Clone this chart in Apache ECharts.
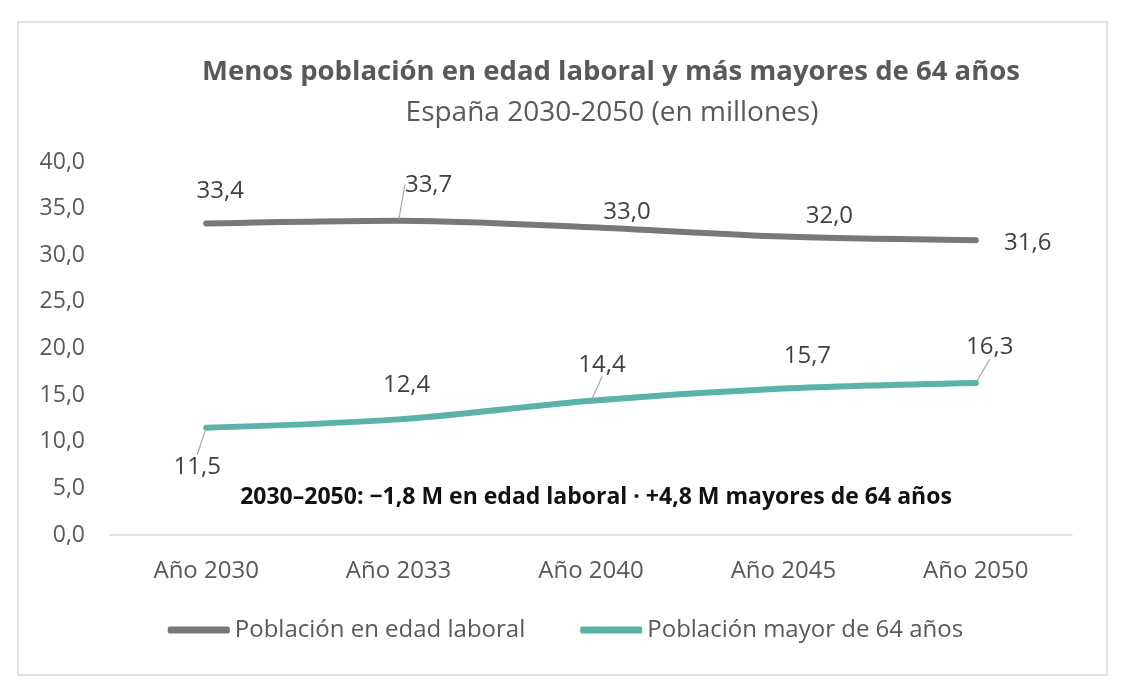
<!DOCTYPE html>
<html>
<head>
<meta charset="utf-8">
<script src="https://cdn.jsdelivr.net/npm/echarts@6/dist/echarts.min.js"></script>
<style>
  html, body { margin: 0; padding: 0; background: #fff; }
  #chart { width: 1131px; height: 700px; }
</style>
</head>
<body>
<div id="chart"></div>
<script>
const categories = ['Año 2030', 'Año 2033', 'Año 2040', 'Año 2045', 'Año 2050'];
const seriesNames = ['Población en edad laboral', 'Población mayor de 64 años'];
const workingAge = [33.4, 33.7, 33.0, 32.0, 31.6];
const over64 = [11.5, 12.4, 14.4, 15.7, 16.3];
const note = '2030–2050: −1,8 M en edad laboral · +4,8 M mayores de 64 años';

// label placement relative to each point (px) and which ones get a leader line
const shiftWork = [[14, -32], [30, -36], [36, -15], [46, -20], [52, 3]];
const shiftOld = [[-9, 39], [8, -34], [11, -36], [24, -32], [14, -36]];
const leaderWork = [false, true, false, false, false];
const leaderOld = [true, false, true, false, true];

const font = 'Open Sans';
const fmt = v => v.toFixed(1).replace('.', ',');

const chart = echarts.init(document.getElementById('chart'));

function buildSeries(name, values, color, shifts, leaders) {
  return {
    name: name,
    type: 'line',
    smooth: 0.3,
    symbol: 'circle',
    symbolSize: 4,
    showSymbol: true,
    itemStyle: { color: color },
    lineStyle: { color: color, width: 6, cap: 'round' },
    data: values.map((v, i) => ({
      value: v,
      labelLine: { show: leaders[i] }
    })),
    label: {
      show: true,
      formatter: p => fmt(p.value),
      fontFamily: font,
      fontSize: 24,
      color: '#404040'
    },
    labelLine: {
      show: false,
      lineStyle: { color: '#a6a6a6', width: 1.2 }
    },
    labelLayout: params => {
      const s = shifts[params.dataIndex];
      return {
        x: params.rect.x + params.rect.width / 2 + s[0],
        y: params.rect.y + params.rect.height / 2 + s[1],
        align: 'center',
        verticalAlign: 'middle'
      };
    },
    emphasis: { disabled: true }
  };
}

chart.setOption({
  animation: false,
  backgroundColor: '#fff',
  title: [
    {
      text: 'Menos población en edad laboral y más mayores de 64 años',
      left: 606,
      top: 53,
      textAlign: 'center',
      textStyle: { fontFamily: font, fontSize: 27.5, fontWeight: 'bold', color: '#595959' }
    },
    {
      text: 'España 2030-2050 (en millones)',
      left: 607,
      top: 94,
      textAlign: 'center',
      textStyle: { fontFamily: font, fontSize: 28, fontWeight: 'normal', color: '#595959' }
    },
    {
      text: note,
      left: 591,
      top: 481,
      textAlign: 'center',
      textStyle: { fontFamily: font, fontSize: 23, fontWeight: 'bold', color: '#111' }
    }
  ],
  graphic: [
    {
      type: 'rect',
      shape: { x: 18, y: 22, width: 1089, height: 653 },
      style: { fill: 'none', stroke: '#d9d9d9', lineWidth: 1.5 },
      silent: true
    }
  ],
  legend: {
    data: seriesNames,
    bottom: 53,
    left: 'center',
    icon: 'roundRect',
    itemWidth: 62,
    itemHeight: 7,
    itemGap: 55,
    textStyle: { fontFamily: font, fontSize: 24, color: '#595959' }
  },
  grid: { left: 110, right: 59, top: 162, bottom: 165 },
  xAxis: {
    type: 'category',
    data: categories,
    boundaryGap: true,
    axisLine: { lineStyle: { color: '#d9d9d9', width: 1.5 } },
    axisTick: { show: false },
    axisLabel: { margin: 24, fontFamily: font, fontSize: 24, color: '#595959' }
  },
  yAxis: {
    type: 'value',
    min: 0,
    max: 40,
    interval: 5,
    axisLine: { show: false },
    axisTick: { show: false },
    splitLine: { show: false },
    axisLabel: {
      margin: 25,
      fontFamily: font,
      fontSize: 23,
      color: '#595959',
      formatter: v => fmt(v)
    }
  },
  series: [
    buildSeries(seriesNames[0], workingAge, '#787878', shiftWork, leaderWork),
    buildSeries(seriesNames[1], over64, '#5ab2a8', shiftOld, leaderOld)
  ]
});
</script>
</body>
</html>
